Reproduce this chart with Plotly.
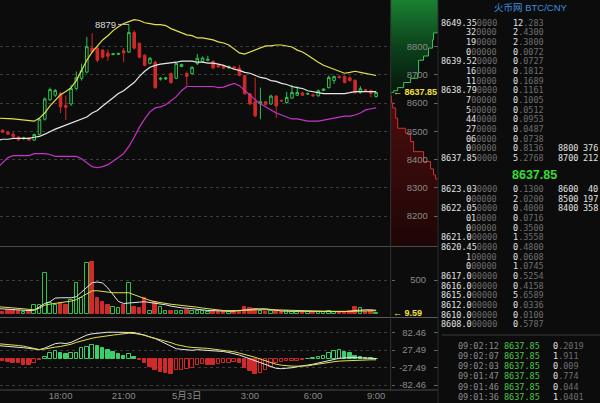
import plotly.graph_objects as go
import pandas as pd

W, H = 600, 403
def px(x): return x / W
def py(y): return 1 - y / H

BG = "#0c0c0c"
GREEN = "#2fc24f"
RED = "#d02a2a"
GRAY = "#8a8a8a"
SANS = "Liberation Sans, Noto Sans CJK SC, sans-serif"
MONO = "DejaVu Sans Mono, monospace"

# ---------------- data ----------------
times = pd.date_range("2017-05-02 15:00", periods=73, freq="15min")
tick_times = ["2017-05-02 18:00", "2017-05-02 21:00", "2017-05-03 00:00",
              "2017-05-03 03:00", "2017-05-03 06:00", "2017-05-03 09:00"]
tick_labels = ["18:00", "21:00", "5月3日", "3:00", "6:00", "9:00"]

opens = [8489, 8504, 8497, 8490, 8480, 8474, 8476, 8469, 8489, 8543,
         8612, 8628, 8634, 8592, 8597, 8652, 8688, 8710, 8795, 8795,
         8788, 8777, 8772, 8773, 8786, 8781, 8850, 8812, 8770, 8741,
         8745, 8685, 8686, 8705, 8688, 8730, 8705, 8705, 8740, 8748,
         8752, 8748, 8734, 8732, 8725, 8728, 8724, 8698, 8633, 8605,
         8598, 8605, 8597, 8625, 8610, 8602, 8618, 8628, 8636, 8632,
         8630, 8626, 8645, 8655, 8680, 8695, 8695, 8690, 8680, 8637,
         8648, 8644, 8623]
highs = [8512, 8508, 8500, 8497, 8484, 8481, 8479, 8492, 8547, 8620,
         8655, 8650, 8640, 8627, 8665, 8712, 8740, 8835, 8848, 8800,
         8792, 8790, 8778, 8779, 8795, 8879, 8858, 8815, 8773, 8763,
         8750, 8692, 8693, 8708, 8745, 8740, 8712, 8730, 8775, 8765,
         8768, 8752, 8737, 8736, 8733, 8731, 8735, 8700, 8636, 8690,
         8655, 8608, 8630, 8628, 8612, 8640, 8665, 8660, 8640, 8638,
         8633, 8648, 8652, 8698, 8698, 8698, 8698, 8695, 8685, 8660,
         8650, 8648, 8640]
lows = [8486, 8494, 8487, 8475, 8466, 8470, 8465, 8466, 8486, 8538,
        8608, 8622, 8565, 8540, 8590, 8645, 8680, 8705, 8778, 8745,
        8758, 8750, 8770, 8770, 8745, 8778, 8790, 8758, 8730, 8737,
        8650, 8680, 8682, 8668, 8685, 8727, 8662, 8700, 8735, 8744,
        8748, 8720, 8725, 8720, 8722, 8718, 8695, 8630, 8593, 8550,
        8543, 8592, 8594, 8547, 8604, 8598, 8615, 8625, 8625, 8629,
        8622, 8623, 8642, 8652, 8668, 8688, 8670, 8676, 8633, 8634,
        8642, 8620, 8620]
closes = [8507, 8497, 8490, 8482, 8470, 8476, 8469, 8489, 8543, 8615,
          8648, 8645, 8587, 8585, 8652, 8690, 8715, 8800, 8782, 8752,
          8763, 8766, 8775, 8776, 8778, 8850, 8795, 8763, 8734, 8759,
          8655, 8688, 8689, 8673, 8741, 8737, 8695, 8727, 8759, 8760,
          8755, 8725, 8729, 8724, 8730, 8722, 8698, 8633, 8597, 8555,
          8605, 8595, 8625, 8590, 8608, 8620, 8638, 8638, 8628, 8634,
          8626, 8644, 8650, 8691, 8694, 8690, 8673, 8680, 8637, 8651,
          8645, 8634, 8637.85]

boll_up = [8547, 8547, 8545, 8544, 8542, 8540, 8538, 8536, 8547, 8565,
           8590, 8612, 8630, 8641, 8655, 8680, 8716, 8752, 8781, 8803,
           8824, 8839, 8857, 8871, 8882, 8889, 8896, 8893, 8885, 8882,
           8878, 8878, 8875, 8864, 8857, 8849, 8842, 8839, 8831, 8831,
           8828, 8824, 8817, 8813, 8806, 8792, 8778, 8774, 8781, 8788,
           8795, 8803, 8803, 8806, 8806, 8803, 8799, 8788, 8781, 8770,
           8756, 8745, 8734, 8727, 8720, 8713, 8706, 8709, 8713, 8709,
           8706, 8702, 8698]
boll_mid = [8468, 8472, 8472, 8475, 8475, 8475, 8475, 8479, 8482, 8490,
            8500, 8508, 8515, 8522, 8529, 8536, 8544, 8551, 8565, 8574,
            8590, 8603, 8619, 8634, 8644, 8659, 8673, 8695, 8713, 8727,
            8734, 8738, 8740, 8742, 8745, 8749, 8749, 8749, 8745, 8745,
            8742, 8742, 8738, 8734, 8727, 8720, 8716, 8709, 8706, 8698,
            8691, 8688, 8680, 8677, 8670, 8666, 8659, 8655, 8652, 8644,
            8641, 8637, 8634, 8634, 8634, 8634, 8634, 8637, 8641, 8641,
            8641, 8641, 8641]
boll_low = [8371, 8389, 8407, 8414, 8414, 8414, 8414, 8421, 8421, 8421,
            8418, 8411, 8411, 8411, 8411, 8411, 8403, 8389, 8375, 8371,
            8375, 8382, 8393, 8407, 8421, 8447, 8479, 8515, 8544, 8569,
            8583, 8587, 8594, 8608, 8623, 8644, 8659, 8659, 8659, 8659,
            8659, 8659, 8655, 8657, 8664, 8670, 8662, 8645, 8630, 8612,
            8598, 8587, 8576, 8565, 8558, 8551, 8544, 8544, 8540, 8536,
            8536, 8536, 8540, 8544, 8547, 8551, 8554, 8554, 8558, 8565,
            8576, 8580, 8583]

volumes = [40, 30, 50, 60, 45, 30, 40, 130, 130, 600,
           160, 130, 160, 130, 205, 455, 235, 750, 765, 235,
           175, 130, 100, 75, 130, 455, 100, 75, 235, 45,
           175, 100, 45, 45, 45, 40, 60, 40, 45, 35,
           25, 40, 30, 35, 25, 30, 45, 90, 85, 70,
           40, 30, 35, 45, 25, 35, 30, 25, 30, 20,
           25, 30, 20, 35, 30, 25, 30, 35, 95, 80,
           30, 35, 9.59]
vol_ma5 = [74, 70, 62, 55, 50, 45, 44, 50, 100, 150,
           176, 230, 235, 232, 235, 250, 320, 382, 460, 470,
           456, 380, 280, 180, 150, 160, 165, 170, 176, 165,
           160, 150, 130, 110, 95, 85, 80, 75, 70, 55,
           45, 40, 38, 35, 35, 35, 40, 50, 60, 70,
           75, 70, 60, 45, 38, 35, 35, 32, 30, 28,
           27, 27, 26, 28, 28, 28, 30, 32, 45, 55,
           55, 55, 48]
vol_ma10 = [103, 98, 92, 85, 78, 70, 62, 55, 80, 125,
            140, 150, 162, 172, 185, 206, 250, 290, 338, 340,
            330, 315, 310, 310, 310, 310, 280, 250, 220, 195,
            176, 160, 147, 138, 130, 122, 118, 106, 94, 82,
            70, 58, 47, 44, 42, 42, 42, 45, 50, 55,
            58, 58, 57, 55, 52, 48, 45, 40, 36, 33,
            30, 29, 28, 28, 28, 28, 29, 30, 36, 40,
            42, 43, 42]

macd_hist = [-6, -8, -10, -12, -14, -20, -20, -13, -4, 6,
             17, 25, 17, 15, 17, 19, 33, 37, 45, 42,
             35, 29, 21, 14, 8, 14, 6, -3, -12, -26,
             -36, -41, -44, -47, -36, -34, -31, -28, -20, -16,
             -19, -20, -15, -13, -12, -11, -14, -28, -38, -47,
             -44, -36, -26, -14, -10, -8, -7.5, -6, -3, 1,
             3, 6, 8, 17, 25, 27, 21, 17, 8, 6,
             4, 2, 1]
macd_dif = [42, 41, 40, 39, 38, 35, 33, 31, 29, 34,
            42, 48, 50, 48, 52, 60, 68, 75, 79, 81,
            83, 84, 84, 84, 84, 84, 83, 79, 74, 70,
            64, 56, 48, 40, 32, 30, 28, 27, 29, 28,
            28, 27, 25, 23, 20, 17, 12, 6, 0, -6,
            -13, -20, -26, -30, -31, -30, -28, -25, -23, -21,
            -17, -13, -10, -6, -2, 2, 4, 4, 4, 3,
            2, 1, 1]
macd_dea = [48, 47, 46, 43, 42, 40, 36, 32, 29, 31,
            35, 37, 39, 42, 46, 52, 57, 62, 65, 68,
            71, 73, 75, 77, 79, 81, 80, 78, 75, 69,
            65, 60, 56, 51, 45, 41, 38, 36, 36, 34,
            33, 31, 29, 27, 25, 22, 18, 14, 11, 5,
            -1, -7, -12, -17, -20, -22, -23, -23, -23, -22,
            -19, -16, -14, -11, -9, -7, -6, -5, -4, -4,
            -3, -3, -3]

price_ticks = [8200, 8300, 8400, 8500, 8600, 8700, 8800]
vol_ticks = [500]
macd_ticks = [82.46, 27.49, -27.49, -82.46]
last_price = 8637.85
peak_label = 8879

# depth chart (cumulative amount vs price)
ask_depth_cum = [0, 7, 30, 70, 130, 200, 270, 280, 330, 380, 420, 430, 470, 2000]
ask_depth_px = [8637.85, 8638, 8644, 8655, 8673, 8688, 8706, 8752, 8767, 8795, 8824, 8849, 8853, 9000]
bid_depth_cum = [0, 7, 20, 50, 70, 150, 200, 230, 330, 400, 430, 450, 480, 2000]
bid_depth_px = [8637.85, 8626, 8601, 8583, 8547, 8511, 8493, 8464, 8428, 8393, 8367, 8346, 8331, 8000]

# order book
ask_px_hi = ["8649.35", "32", "19", "0", "8639.52", "16", "11", "8638.79", "7", "5", "44", "27", "06", "0", "8637.85"]
ask_px_lo = ["0000", "0000", "0000", "00000", "0000", "0000", "0000", "0000", "00000", "00000", "0000", "0000", "0000", "00000", "0000"]
ask_amt = ["12.283", "2.4300", "2.3800", "0.0072", "0.0727", "0.1812", "0.1689", "0.1161", "0.1005", "0.0512", "0.0953", "0.0487", "0.0738", "0.8136", "5.2768"]
bid_px_hi = ["8623.03", "0", "8622.05", "01", "0", "8621.0", "8620.45", "1", "0", "8617.0", "8616.0", "8615.0", "8612.0", "8610.0", "8608.0"]
bid_px_lo = ["0000", "00000", "0000", "0000", "00000", "00000", "0000", "00000", "00000", "00000", "00000", "00000", "00000", "00000", "00000"]
bid_amt = ["0.1300", "2.0200", "0.4000", "0.0716", "0.3500", "1.3558", "0.4800", "0.0608", "1.0745", "0.5254", "0.4158", "5.6589", "0.0336", "0.0100", "0.5787"]
depth_levels = ["8800", "8700", "8600", "8500", "8400"]
depth_sizes = ["376", "212", "40", "197", "358"]
trade_times = ["09:02:12", "09:02:07", "09:02:03", "09:01:47", "09:01:46", "09:01:36"]
trade_prices = ["8637.85"] * 6
trade_amts = ["0.2019", "1.911", "0.009", "0.774", "0.044", "1.0401"]

# ---------------- figure ----------------
fig = go.Figure()

fig.add_trace(go.Candlestick(
    x=times, open=opens, high=highs, low=lows, close=closes,
    increasing=dict(line=dict(color=GREEN, width=1), fillcolor=BG),
    decreasing=dict(line=dict(color=RED, width=1), fillcolor=RED),
    whiskerwidth=0, xaxis="x", yaxis="y", hoverinfo="skip"))

for ys, col in [(boll_up, "#e2e24a"), (boll_mid, "#e8e8e8"), (boll_low, "#c832c8")]:
    fig.add_trace(go.Scatter(x=times, y=ys, mode="lines", line=dict(color=col, width=1.2),
                             xaxis="x", yaxis="y", hoverinfo="skip"))

# volume
up = [c >= o for o, c in zip(opens, closes)]
fig.add_trace(go.Bar(
    x=times, y=volumes, width=600000,
    marker=dict(color=[BG if u else RED for u in up],
                line=dict(color=[GREEN if u else RED for u in up], width=1)),
    xaxis="x", yaxis="y2", hoverinfo="skip"))
for ys, col in [(vol_ma5, "#e8e8e8"), (vol_ma10, "#e2e24a")]:
    fig.add_trace(go.Scatter(x=times, y=ys, mode="lines", line=dict(color=col, width=1),
                             xaxis="x", yaxis="y2", hoverinfo="skip"))

# macd
m_fill, m_line = [], []
for i, v in enumerate(macd_hist):
    col = "#3ccf6a" if v >= 0 else RED
    rising = i > 0 and v > macd_hist[i - 1]
    m_fill.append(BG if rising else col)
    m_line.append(col)
fig.add_trace(go.Bar(x=times, y=macd_hist, width=600000,
                     marker=dict(color=m_fill, line=dict(color=m_line, width=1)),
                     xaxis="x", yaxis="y3", hoverinfo="skip"))
for ys, col in [(macd_dif, "#e8e8e8"), (macd_dea, "#e2e24a")]:
    fig.add_trace(go.Scatter(x=times, y=ys, mode="lines", line=dict(color=col, width=1),
                             xaxis="x", yaxis="y3", hoverinfo="skip"))

# depth (own subplot x2/y7 sharing the price scale; y7 carries the price labels)
fig.add_trace(go.Scatter(
    x=ask_depth_cum, y=ask_depth_px, mode="lines", line=dict(color="#3ac75a", width=1, shape="hv"),
    fill="tozerox",
    fillgradient=dict(type="vertical", start=8637.85, stop=8965,
                      colorscale=[[0, "rgb(6,22,10)"], [0.5, "rgb(12,66,28)"], [1, "rgb(26,128,50)"]]),
    xaxis="x2", yaxis="y7", hoverinfo="skip"))
fig.add_trace(go.Scatter(
    x=bid_depth_cum, y=bid_depth_px, mode="lines", line=dict(color="#d23030", width=1, shape="vh"),
    fill="tozerox",
    fillgradient=dict(type="vertical", start=8094, stop=8637.85,
                      colorscale=[[0, "rgb(30,6,6)"], [0.6, "rgb(58,11,11)"], [1, "rgb(80,15,15)"]]),
    xaxis="x2", yaxis="y7", hoverinfo="skip"))

# invisible anchors so the label axes get drawn
for ax_name, val in [("y5", vol_ticks[0]), ("y6", macd_ticks[0])]:
    fig.add_trace(go.Scatter(x=[times[0]], y=[val], mode="markers", marker=dict(opacity=0),
                             xaxis="x", yaxis=ax_name, hoverinfo="skip"))

X_END = px(390.7)
AX_POS = px(438)
tickfont = dict(family=SANS, size=9.5, color=GRAY)
grid = dict(showgrid=True, gridcolor="#3c3c3c", griddash="dot", gridwidth=1)

y_main = [py(246), 1]
y_vol = [py(317), py(247)]
y_macd = [py(390), py(318)]
r_main = [8093.7, 8965.5]
r_vol = [-52, 993]
r_macd = [-98.2, 128.8]

def base_y(domain, rng, ticks, **kw):
    d = dict(domain=domain, range=rng, anchor="x", side="right", tickvals=ticks,
             showticklabels=False, ticks="outside", ticklen=3, tickcolor="#666",
             zeroline=False, showline=False, fixedrange=True)
    d.update(grid)
    d.update(kw)
    return d

def label_y(over, rng, ticks, text=None):
    return dict(overlaying=over, anchor="free", position=AX_POS, side="left", range=rng,
                tickvals=ticks, ticktext=text, ticks="outside", ticklen=4, tickcolor="#666",
                showgrid=False, zeroline=False, showline=False, tickfont=tickfont,
                ticklabelstandoff=6, fixedrange=True)

fig.update_layout(
    width=W, height=H, margin=dict(l=0, r=0, t=0, b=0, autoexpand=False),
    paper_bgcolor=BG, plot_bgcolor=BG, showlegend=False, hovermode=False,
    bargap=0,
    xaxis=dict(domain=[0, X_END], anchor="y3", type="date",
               range=["2017-05-02 15:07:24", "2017-05-03 09:41:30"],
               tickvals=tick_times, ticktext=tick_labels, ticks="", showgrid=False,
               zeroline=False, showline=False, tickfont=dict(family=SANS, size=9.5, color=GRAY),
               ticklabelstandoff=-2, rangeslider=dict(visible=False), fixedrange=True),
    xaxis2=dict(domain=[X_END, AX_POS], anchor="y7", range=[0, 475], visible=False, fixedrange=True),
    yaxis=base_y(y_main, r_main, price_ticks),
    yaxis2=base_y(y_vol, r_vol, vol_ticks),
    yaxis3=base_y(y_macd, r_macd, macd_ticks),
    yaxis5=label_y("y2", r_vol, vol_ticks, [str(v) for v in vol_ticks]),
    yaxis6=label_y("y3", r_macd, macd_ticks, ["%.2f" % v for v in macd_ticks]),
    yaxis7=dict(domain=y_main, range=r_main, anchor="x2", side="right", tickvals=price_ticks,
                ticktext=[str(v) for v in price_ticks], ticks="inside", ticklen=4, tickcolor="#666",
                ticklabelposition="inside", ticklabelstandoff=5, tickfont=tickfont,
                showgrid=False, zeroline=False, showline=False, fixedrange=True),
)

# separators
line_col = "#4a4a4a"
shapes = [
    dict(type="line", xref="paper", yref="paper", x0=0, x1=AX_POS, y0=py(246.5), y1=py(246.5), line=dict(color=line_col, width=1)),
    dict(type="line", xref="paper", yref="paper", x0=0, x1=AX_POS, y0=py(317.5), y1=py(317.5), line=dict(color="#5a5a5a", width=1)),
    dict(type="line", xref="paper", yref="paper", x0=0, x1=AX_POS, y0=py(390), y1=py(390), line=dict(color=line_col, width=1)),
    dict(type="line", xref="paper", yref="paper", x0=X_END, x1=X_END, y0=py(390), y1=1, line=dict(color="#333", width=1)),
    dict(type="line", xref="paper", yref="paper", x0=AX_POS, x1=AX_POS, y0=0, y1=1, line=dict(color="#2a2a2a", width=1)),
    dict(type="line", xref="paper", yref="paper", x0=px(442), x1=1, y0=py(335), y1=py(335), line=dict(color="#3a3a3a", width=1)),
]
fig.update_layout(shapes=shapes)

ann = []
def txt(x, y, text, size=8.5, color="#e2e2e2", anchor="left", family=MONO):
    ann.append(dict(x=x, y=y, xref="paper", yref="paper", text=text, showarrow=False,
                    xanchor=anchor, yanchor="middle", font=dict(size=size, color=color, family=family)))

DIM = "#6e6e6e"
def dim(s): return "<span style='color:%s'>%s</span>" % (DIM, s)
def amt(s):
    i, d = s.split(".")
    return i + dim("." + d)

# title
txt(px(531), py(7), "火币网 BTC/CNY", size=9.5, color="#3f8fe0", anchor="center",
    family="Liberation Sans, Noto Sans CJK SC")

for i in range(len(ask_px_hi)):
    y = py(22.7 + 9.67 * i)
    txt(px(499), y, ask_px_hi[i] + dim(ask_px_lo[i]), anchor="right")
    txt(px(511), y, amt(ask_amt[i]))
for j in range(len(bid_px_hi)):
    y = py(189 + 9.67 * j)
    txt(px(499), y, bid_px_hi[j] + dim(bid_px_lo[j]), anchor="right")
    txt(px(511), y, amt(bid_amt[j]))
level_rows = [22.7 + 9.67 * 13, 22.7 + 9.67 * 14, 189, 189 + 9.67, 189 + 9.67 * 2]
for lv, sz, yy in zip(depth_levels, depth_sizes, level_rows):
    txt(px(556), py(yy), lv)
    txt(px(600), py(yy), sz, anchor="right")

txt(px(534.5), py(175), "<b>8637.85</b>", size=12.5, color="#35dd35", anchor="center",
    family="Liberation Sans")

for m in range(len(trade_times)):
    y = py(345.7 + 10.2 * m)
    txt(px(456), y, trade_times[m], color="#8a8a8a")
    txt(px(502), y, trade_prices[m], color="#46c846")
    txt(px(551), y, amt(trade_amts[m]))

# price / volume markers
ann.append(dict(x=px(391), y=last_price, xref="paper", yref="y", text="<b>← 8637.85</b>",
                showarrow=False, xanchor="left", yanchor="middle",
                font=dict(size=9, color="#f0e23a", family="Liberation Sans")))
ann.append(dict(x=px(391), y=volumes[-1], xref="paper", yref="y2", text="<b>← 9.59</b>",
                showarrow=False, xanchor="left", yanchor="middle",
                font=dict(size=9, color="#f0e23a", family="Liberation Sans")))
ann.append(dict(x=times[25], y=peak_label, xref="x", yref="y", text=str(peak_label),
                showarrow=True, ax=-23, ay=0, arrowhead=0, arrowwidth=1, arrowcolor="#bbbbbb",
                font=dict(size=9.5, color="#dddddd", family="Liberation Sans")))
fig.update_layout(annotations=ann)

fig.write_html("out.html", config={"displayModeBar": False},
               post_script="document.body.style.margin='0';document.body.style.background='%s';" % BG)
